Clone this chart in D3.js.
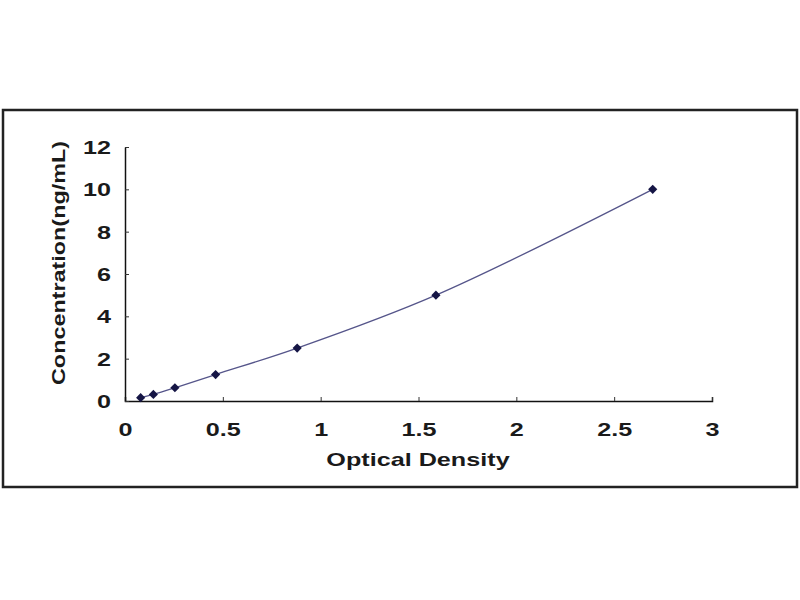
<!DOCTYPE html>
<html>
<head>
<meta charset="utf-8">
<script src="https://cdn.jsdelivr.net/npm/d3@7"></script>
<style>
  body { margin: 0; background: #fff; }
  svg { display: block; }
  text { font-family: "Liberation Sans", Arial, sans-serif; font-weight: bold; fill: #1a1a1a; }
</style>
</head>
<body>
<svg id="chart" width="800" height="600"></svg>
<script>
// standard curve: optical density vs concentration
const od = [0.08, 0.145, 0.255, 0.463, 0.88, 1.589, 2.697];
const conc = [0.156, 0.312, 0.625, 1.25, 2.5, 5, 10];
const xTicks = [0, 0.5, 1, 1.5, 2, 2.5, 3];
const yTicks = [0, 2, 4, 6, 8, 10, 12];

const svg = d3.select("#chart");
const stretch = 1.4;

svg.append("rect")
  .attr("x", 3).attr("y", 110).attr("width", 794).attr("height", 377)
  .attr("fill", "none").attr("stroke", "#222").attr("stroke-width", 2.5);

const x = d3.scaleLinear().domain([0, 3]).range([125, 712]);
const y = d3.scaleLinear().domain([0, 12]).range([401, 147]);

const xAxis = svg.append("g")
  .attr("transform", `translate(0,${y(0)})`)
  .call(d3.axisBottom(x).tickValues(xTicks).tickSizeInner(-4).tickSizeOuter(-4).tickPadding(0).tickFormat(d3.format("")));
xAxis.select(".domain").attr("stroke", "#111").attr("stroke-width", 1.5);
xAxis.selectAll(".tick line").attr("stroke", "#333");
xAxis.selectAll(".tick text")
  .attr("y", 35).attr("dy", null)
  .attr("font-size", 18)
  .attr("transform", `scale(${stretch},1)`);

const yAxis = svg.append("g")
  .attr("transform", `translate(${x(0)},0)`)
  .call(d3.axisLeft(y).tickValues(yTicks).tickSizeInner(-4).tickSizeOuter(0).tickPadding(0));
yAxis.select(".domain").attr("stroke", "#111").attr("stroke-width", 1.5);
yAxis.selectAll(".tick line").attr("stroke", "#333");
yAxis.selectAll(".tick text")
  .attr("x", -14 / stretch).attr("dy", "0.36em")
  .attr("font-size", 18)
  .attr("transform", `scale(${stretch},1)`);

svg.selectAll(".tick text").attr("fill", "#1a1a1a").attr("font-family", null);

const pts = od.map((d, i) => [d, conc[i]]);

svg.append("path")
  .datum(pts)
  .attr("fill", "none")
  .attr("stroke", "#55558a")
  .attr("stroke-width", 1.3)
  .attr("d", d3.line().x(d => x(d[0])).y(d => y(d[1])).curve(d3.curveCatmullRom));

svg.selectAll("path.pt")
  .data(pts)
  .join("path")
  .attr("class", "pt")
  .attr("transform", d => `translate(${x(d[0])},${y(d[1])}) rotate(45)`)
  .attr("d", d3.symbol(d3.symbolSquare, 42))
  .attr("fill", "#151545");

svg.append("text")
  .attr("transform", `translate(418,466) scale(${stretch},1)`)
  .attr("text-anchor", "middle")
  .attr("font-size", 18)
  .text("Optical Density");

svg.append("text")
  .attr("transform", "translate(65,263) rotate(-90)")
  .attr("text-anchor", "middle")
  .attr("font-size", 19)
  .attr("textLength", 244)
  .attr("lengthAdjust", "spacingAndGlyphs")
  .text("Concentration(ng/mL)");
</script>
</body>
</html>
